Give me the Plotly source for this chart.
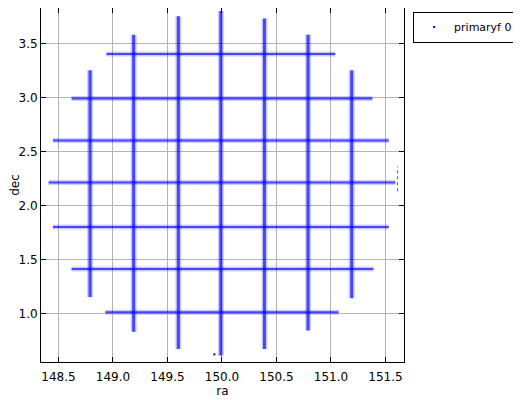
import plotly.graph_objs as go

# faixas horizontais (dec fixo) - extensao em ra
dec_rows = [1.01, 1.41, 1.80, 2.21, 2.60, 2.99, 3.40]
row_ra_min = [148.93, 148.62, 148.45, 148.41, 148.45, 148.62, 148.94]
row_ra_max = [151.07, 151.39, 151.53, 151.59, 151.53, 151.38, 151.04]

# faixas verticais (ra fixo) - extensao em dec
ra_cols = [148.79, 149.19, 149.60, 149.99, 150.39, 150.79, 151.19]
col_dec_min = [1.15, 0.83, 0.67, 0.61, 0.67, 0.84, 1.14]
col_dec_max = [3.25, 3.58, 3.75, 3.80, 3.73, 3.58, 3.25]

# pontos esparsos na borda direita
edge_ra = [151.61, 151.61]
edge_dec = [2.13, 2.36]

# ponto solto
stray_ra = [149.93]
stray_dec = [0.62]

hx, hy = [], []
for d, a, b in zip(dec_rows, row_ra_min, row_ra_max):
    hx += [a, b, None]
    hy += [d, d, None]

vx, vy = [], []
for r, a, b in zip(ra_cols, col_dec_min, col_dec_max):
    vx += [r, r, None]
    vy += [a, b, None]

azul = '#0000ff'

fig = go.Figure()

# halo claro + nucleo mais denso
for xs, ys, w in [(hx, hy, 5), (vx, vy, 6)]:
    fig.add_trace(
        trace=go.Scatter(
            x=xs,
            y=ys,
            mode='lines',
            line=dict(color=azul, width=w),
            opacity=0.2,
            showlegend=False,
            hoverinfo='skip',
        )
    )
    fig.add_trace(
        trace=go.Scatter(
            x=xs,
            y=ys,
            mode='lines',
            line=dict(color=azul, width=w - 3),
            opacity=0.65,
            showlegend=False,
            hoverinfo='skip',
        )
    )

fig.add_trace(
    trace=go.Scatter(
        x=edge_ra,
        y=edge_dec,
        mode='lines',
        line=dict(color=azul, width=1, dash='dot'),
        opacity=0.7,
        showlegend=False,
        hoverinfo='skip',
    )
)

fig.add_trace(
    trace=go.Scatter(
        x=stray_ra,
        y=stray_dec,
        name='primaryf 0',
        mode='markers',
        marker=dict(color=azul, size=2, symbol='square'),
        showlegend=True,
    )
)

eixo = dict(
    showline=True,
    linecolor='black',
    linewidth=1,
    mirror='ticks',
    ticks='inside',
    ticklen=5,
    tickcolor='black',
    showgrid=True,
    gridcolor='#b4b4b4',
    gridwidth=1,
    zeroline=False,
    automargin=False,
    tickfont=dict(family='DejaVu Sans', size=12, color='black'),
    title_font=dict(family='DejaVu Sans', size=12, color='black'),
)

# a pagina tem margem de 8px no body, por isso a figura fica um pouco menor
fig.update_layout(
    dict1=dict(
        width=513,
        height=392,
        autosize=False,
        paper_bgcolor='white',
        plot_bgcolor='white',
        margin=dict(l=33, r=117, t=0, b=38),
        legend=go.layout.Legend(
            x=1.025,
            y=0.99,
            xanchor='left',
            yanchor='top',
            bordercolor='black',
            borderwidth=1,
            bgcolor='white',
            font=dict(family='DejaVu Sans', size=11, color='black'),
        ),
    )
)

fig.update_xaxes(patch=dict(eixo, range=[148.34, 151.67], dtick=0.5, tickformat='.1f',
                            ticklabelstandoff=4, title_text='ra', title_standoff=0))
fig.update_yaxes(patch=dict(eixo, range=[0.549, 3.827], dtick=0.5, tickformat='.1f',
                            title_text='dec', title_standoff=0))

fig.write_html('out.html')
